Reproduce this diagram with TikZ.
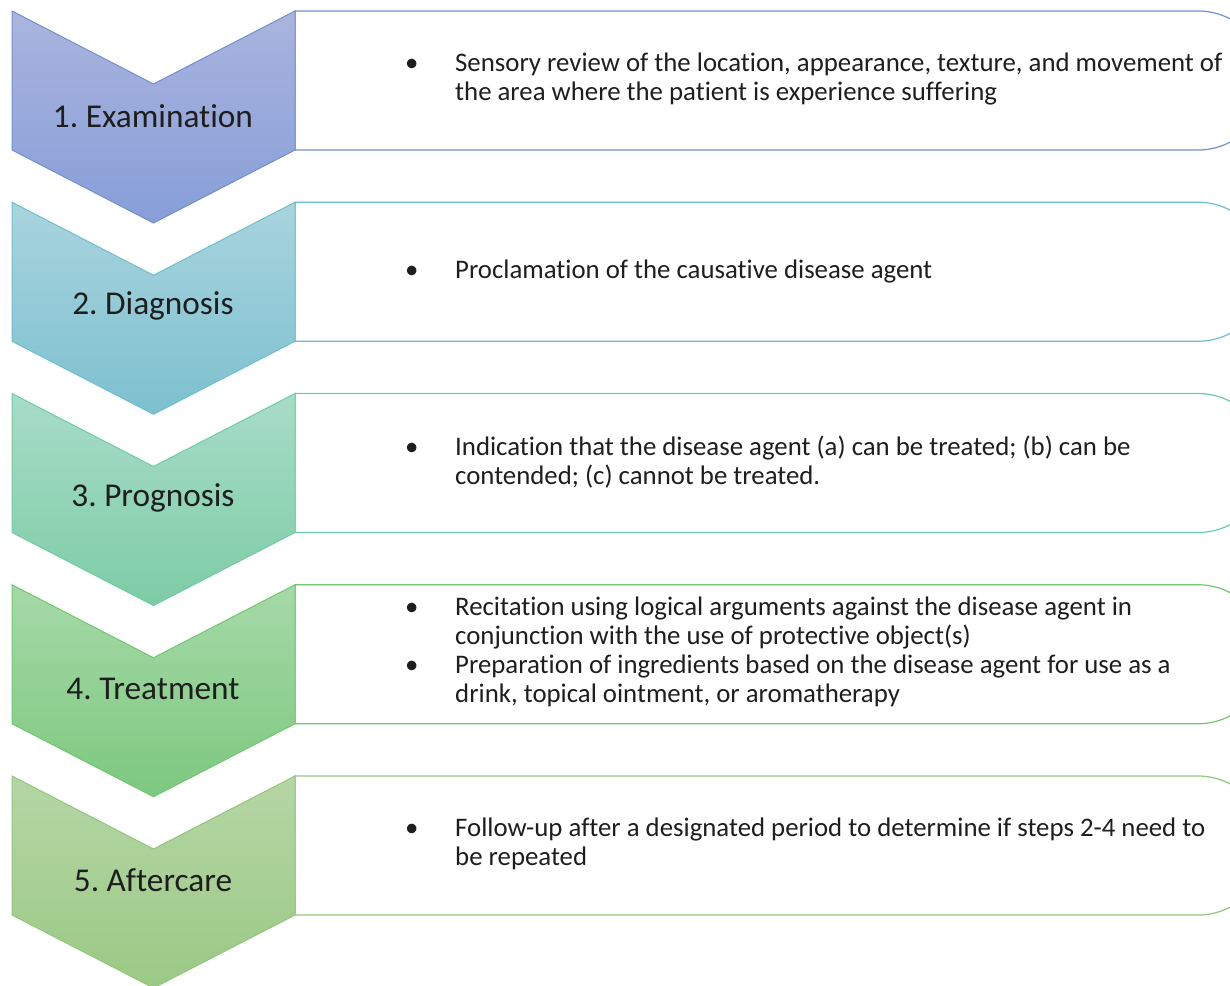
\documentclass[tikz,border=0pt]{standalone}
\usepackage{fontspec}
\setmainfont{Carlito}[Ligatures={NoCommon}]
\frenchspacing
\definecolor{c1t}{HTML}{AAB4DE}\definecolor{c1b}{HTML}{879ED8}\definecolor{c1s}{HTML}{7290D0}
\definecolor{c2t}{HTML}{A9D4DE}\definecolor{c2b}{HTML}{7DC0CF}\definecolor{c2s}{HTML}{6CC0CE}
\definecolor{c3t}{HTML}{A8DCC8}\definecolor{c3b}{HTML}{7DCCA6}\definecolor{c3s}{HTML}{6ECCA8}
\definecolor{c4t}{HTML}{A6D9A8}\definecolor{c4b}{HTML}{7DC87F}\definecolor{c4s}{HTML}{70C870}
\definecolor{c5t}{HTML}{B5D6A5}\definecolor{c5b}{HTML}{9BC985}\definecolor{c5s}{HTML}{94C57C}
\definecolor{txt}{HTML}{1E1E1E}
\tikzset{
  title/.style={text=txt,font=\fontsize{33.3}{38}\selectfont,inner sep=0pt},
  body/.style={text=txt,font=\fontsize{26.8}{29}\selectfont,align=left,anchor=west,inner sep=0pt},
}
\newcommand{\bul}{\makebox[50pt][l]{•}}
\newcommand{\ind}{\hspace*{50pt}}
% #1 top y, #2 colour prefix
\newcommand{\steprow}[2]{%
  \draw[c#2s,line width=1.2pt,fill=white] (295,#1) [rounded corners=69pt] -- (1267,#1) -- (1267,#1+139) [sharp corners] -- (295,#1+139) -- cycle;
  \draw[c#2s,line width=1pt,top color=c#2t,bottom color=c#2b] (12,#1) -- (153.5,#1+73) -- (295,#1) -- (295,#1+139) -- (153.5,#1+212) -- (12,#1+139) -- cycle;
}
\begin{document}
\begin{tikzpicture}[x=1pt,y=-1pt]
\useasboundingbox (0,0) rectangle (1230,985);
\clip (0,0) rectangle (1230,985);
\steprow{11}{1}
\steprow{202.25}{2}
\steprow{393.5}{3}
\steprow{584.75}{4}
\steprow{776}{5}
\node[title] (t1) at (153,116) {1. Examination};
\node[title] (t2) at (153,306) {2. Diagnosis};
\node[title] (t3) at (153,498) {3. Prognosis};
\node[title] (t4) at (153,689) {4. Treatment};
\node[title] (t5) at (153,880) {5. Aftercare};
\node[body] (b1) at (405,79) {\bul Sensory review of the location, appearance, texture, and movement of\\ \ind the area where the patient is experience suffering};
\node[body] (b2) at (405,271) {\bul Proclamation of the causative disease agent};
\node[body] (b3) at (405,462) {\bul Indication that the disease agent (a) can be treated; (b) can be\\ \ind contended; (c) cannot be treated.};
\node[body] (b4) at (405,652) {\bul Recitation using logical arguments against the disease agent in\\ \ind conjunction with the use of protective object(s)\\ \bul Preparation of ingredients based on the disease agent for use as a\\ \ind drink, topical ointment, or aromatherapy};
\node[body] (b5) at (405,844) {\bul Follow-up after a designated period to determine if steps 2-4 need to\\ \ind be repeated};
\end{tikzpicture}
\end{document}
